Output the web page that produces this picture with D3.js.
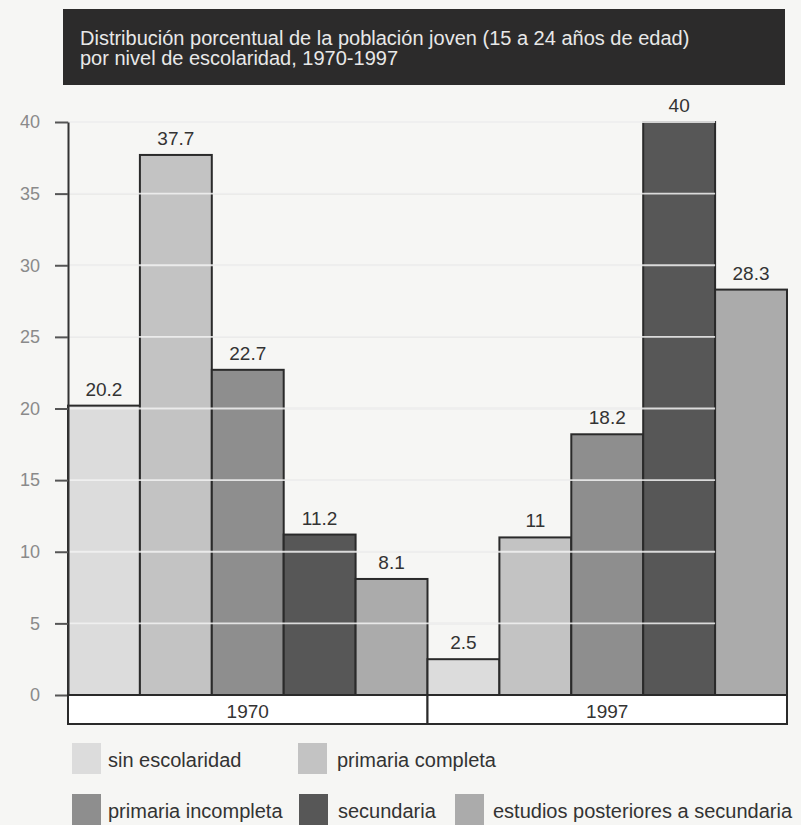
<!DOCTYPE html>
<html>
<head>
<meta charset="utf-8">
<script src="https://cdn.jsdelivr.net/npm/d3@7"></script>
<style>
  html, body { margin: 0; padding: 0; background: #f6f6f4; }
  svg { display: block; }
  text { font-family: "Liberation Sans", Arial, Helvetica, sans-serif; }
</style>
</head>
<body>
<svg id="chart" width="801" height="825"></svg>
<script>
// Data
const years = ["1970", "1997"];
const levels = ["sin escolaridad", "primaria completa", "primaria incompleta", "secundaria", "estudios posteriores a secundaria"];
const values1970 = [20.2, 37.7, 22.7, 11.2, 8.1];
const values1997 = [2.5, 11, 18.2, 40, 28.3];
const yTicks = [0, 5, 10, 15, 20, 25, 30, 35, 40];
const titleLines = [
  "Distribución porcentual de la población joven (15 a 24 años de edad)",
  "por nivel de escolaridad, 1970-1997"
];

const fills = ["#dcdcdc", "#c3c3c3", "#8e8e8e", "#575757", "#ababab"];

const rows = [];
years.forEach((yr, i) => {
  const vals = i === 0 ? values1970 : values1997;
  levels.forEach((lv, j) => rows.push({ year: yr, level: lv, value: vals[j], key: yr + "|" + lv }));
});

const svg = d3.select("#chart");

// Title banner
svg.append("rect").attr("x", 63).attr("y", 9).attr("width", 722).attr("height", 76).attr("fill", "#2c2b2b");
svg.append("g").selectAll("text").data(titleLines).join("text")
  .attr("x", 80).attr("y", (d, i) => 45 + i * 20)
  .attr("fill", "#e8e8e8").attr("font-size", 20)
  .text(d => d);

// Scales
const plotLeft = 68, plotRight = 787, plotTop = 122, plotBottom = 695;
const x = d3.scaleBand().domain(rows.map(d => d.key)).range([plotLeft, plotRight]).padding(0);
const xYear = d3.scaleBand().domain(years).range([plotLeft, plotRight]).padding(0);
const y = d3.scaleLinear().domain([0, 40]).range([plotBottom, plotTop]);
const color = d3.scaleOrdinal().domain(levels).range(fills);

// Grid extent ends at the right edge of the 1997 "secundaria" bar
const gridRight = x("1997|secundaria") + x.bandwidth();

// Background gridlines
svg.append("g").selectAll("line").data(yTicks.filter(t => t > 0)).join("line")
  .attr("x1", plotLeft).attr("x2", gridRight)
  .attr("y1", d => y(d)).attr("y2", d => y(d))
  .attr("stroke", "#d6d6d4").attr("stroke-width", 1.5);

// Bars
svg.append("g").selectAll("rect").data(rows).join("rect")
  .attr("x", d => x(d.key)).attr("y", d => y(d.value))
  .attr("width", x.bandwidth()).attr("height", d => y(0) - y(d.value))
  .attr("fill", d => color(d.level))
  .attr("stroke", "#2a2a2a").attr("stroke-width", 2);

// Gridlines drawn across the bars
svg.append("g").selectAll("line").data(yTicks.filter(t => t > 0)).join("line")
  .attr("x1", plotLeft + 1).attr("x2", gridRight)
  .attr("y1", d => y(d)).attr("y2", d => y(d))
  .attr("stroke", "#f2f2f2").attr("stroke-width", 1.8)
  .attr("stroke-opacity", 0.85);

// Value labels
svg.append("g").selectAll("text").data(rows).join("text")
  .attr("x", d => x(d.key) + x.bandwidth() / 2)
  .attr("y", d => y(d.value) - 10)
  .attr("text-anchor", "middle").attr("font-size", 19).attr("fill", "#333")
  .text(d => d.value);

// Y axis
const yAxis = d3.axisLeft(y).tickValues(yTicks).tickSize(13).tickSizeOuter(0).tickPadding(15);
const gy = svg.append("g").attr("transform", `translate(${plotLeft},0)`).call(yAxis);
gy.select(".domain").attr("stroke", "#333").attr("stroke-width", 2);
gy.selectAll(".tick line").attr("stroke", "#555").attr("stroke-width", 2);
gy.selectAll(".tick text").attr("font-size", 18).attr("fill", "#8a8a8a")
  .attr("font-family", "'Liberation Sans', Arial, sans-serif");

// Year boxes below the bars
const yearBox = svg.append("g");
yearBox.selectAll("rect").data(years).join("rect")
  .attr("x", d => xYear(d)).attr("y", plotBottom)
  .attr("width", xYear.bandwidth()).attr("height", 29)
  .attr("fill", "#ffffff").attr("stroke", "#2a2a2a").attr("stroke-width", 2);
yearBox.selectAll("text").data(years).join("text")
  .attr("x", d => xYear(d) + xYear.bandwidth() / 2).attr("y", plotBottom + 23)
  .attr("text-anchor", "middle").attr("font-size", 19).attr("fill", "#333")
  .text(d => d);

// Legend
const legendPos = [
  { sx: 72, sy: 743, tx: 108 },
  { sx: 298, sy: 743, tx: 337 },
  { sx: 72, sy: 794, tx: 108 },
  { sx: 299, sy: 794, tx: 338 },
  { sx: 455, sy: 794, tx: 493 }
];
const legend = svg.append("g").selectAll("g").data(levels).join("g");
legend.append("rect")
  .attr("x", (d, i) => legendPos[i].sx).attr("y", (d, i) => legendPos[i].sy)
  .attr("width", 29).attr("height", 31)
  .attr("fill", d => color(d));
legend.append("text")
  .attr("x", (d, i) => legendPos[i].tx).attr("y", (d, i) => legendPos[i].sy + 24)
  .attr("font-size", 20).attr("fill", "#333")
  .text(d => d);
</script>
</body>
</html>
